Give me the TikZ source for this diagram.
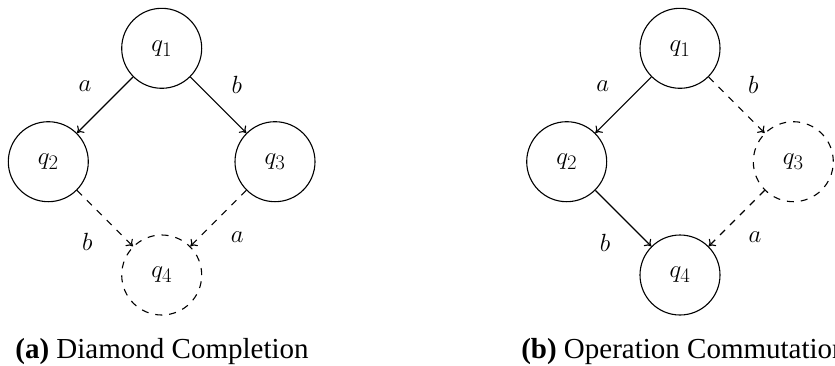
\documentclass[tikz,border=0pt]{standalone}
\usepackage{fontspec}
\setmainfont{Liberation Serif}
\usetikzlibrary{arrows.meta}
\begin{document}
\begin{tikzpicture}[x=1pt,y=-1pt,
  state/.style={circle,draw,line width=1.1pt,minimum size=80pt,inner sep=0pt,font=\fontsize{30}{36}\selectfont},
  ghost/.style={state,dash pattern=on 7pt off 7pt},
  lbl/.style={inner sep=0pt,font=\fontsize{30}{36}\selectfont},
  captext/.style={inner sep=0pt,anchor=base,font=\fontsize{29}{34}\selectfont},
  tr/.style={line width=1.1pt,-{To[length=6pt,width=10pt]}},
  dtr/.style={tr,dash pattern=on 7pt off 7pt}]
\useasboundingbox (0,0) rectangle (835,365);
% (a)
\node[state] (a1) at (161.7,48.3) {$q_1$};
\node[state] (a2) at (48.3,161.7) {$q_2$};
\node[state] (a3) at (275,161.7) {$q_3$};
\node[ghost] (a4) at (161.7,275) {$q_4$};
\draw[tr] (a1) -- (a2);
\draw[tr] (a1) -- (a3);
\draw[dtr] (a2) -- (a4);
\draw[dtr] (a3) -- (a4);
\node[lbl] (la1) at (85,86) {$a$};
\node[lbl] (la2) at (236.7,85) {$b$};
\node[lbl] (la3) at (87.3,241.7) {$b$};
\node[lbl] (la4) at (237.3,236.7) {$a$};
\node[captext] (capa) at (162,358) {\textbf{(a)} Diamond Completion};
% (b)
\node[state] (b1) at (680,48.3) {$q_1$};
\node[state] (b2) at (566.7,161.7) {$q_2$};
\node[ghost] (b3) at (793.3,161.7) {$q_3$};
\node[state] (b4) at (680,275) {$q_4$};
\draw[tr] (b1) -- (b2);
\draw[dtr] (b1) -- (b3);
\draw[tr] (b2) -- (b4);
\draw[dtr] (b3) -- (b4);
\node[lbl] (lb1) at (602.7,86) {$a$};
\node[lbl] (lb2) at (753.3,85) {$b$};
\node[lbl] (lb3) at (605,243) {$b$};
\node[lbl] (lb4) at (755,237) {$a$};
\node[captext] (capb) at (684,358) {\textbf{(b)} Operation Commutation};
\end{tikzpicture}
\end{document}
